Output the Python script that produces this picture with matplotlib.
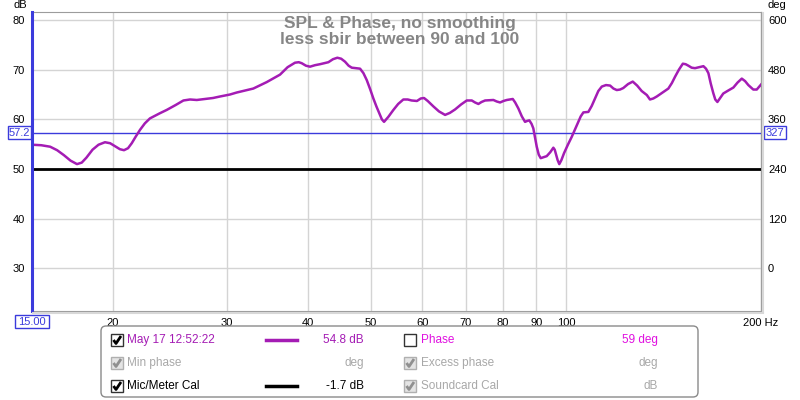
import matplotlib
matplotlib.use("Agg")
import matplotlib.pyplot as plt
from matplotlib.patches import FancyBboxPatch, Rectangle

plt.rcParams['font.family'] = ['Liberation Sans', 'DejaVu Sans']

# SPL trace (Hz, dB)
freq = [15.0, 15.5, 16.0, 16.4, 16.8, 17.2, 17.6, 17.9, 18.2, 18.6,
        19.0, 19.44, 19.8, 20.15, 20.5, 20.8, 21.1, 21.38, 21.7, 22.02,
        22.4, 22.81, 23.6, 24.21, 25.0, 25.69, 26.3, 26.94, 28.54, 29.25,
        30.31, 31.04, 32.93, 34.54, 36.21, 37.2, 38.19, 38.7, 39.11, 39.7,
        40.28, 41.0, 41.74, 43.0, 43.7, 44.39, 45.0, 45.62, 46.2, 46.72,
        47.5, 48.12, 48.7, 49.28, 49.9, 50.45, 51.0, 51.53, 52.0, 52.4,
        53.2, 54.17, 55.1, 56.12, 57.0, 57.8, 58.9, 59.7, 60.4, 61.2,
        62.45, 63.7, 65.09, 66.2, 67.45, 68.9, 70.31, 71.57, 72.4, 73.27,
        74.1, 75.04, 77.28, 78.2, 79.14, 80.1, 81.05, 82.79, 83.5, 84.45,
        85.5, 86.48, 87.2, 87.81, 88.5, 89.06, 89.6, 90.15, 90.8, 91.43,
        92.4, 93.4, 94.6, 95.63, 96.1, 96.54, 97.1, 97.67, 98.4, 99.33,
        100.7, 102.1, 103.3, 104.5, 105.4, 106.4, 108.3, 109.6, 110.9, 112.2,
        113.6, 115.3, 117.0, 118.4, 119.8, 121.2, 122.6, 124.7, 126.8, 128.8,
        130.9, 133.3, 134.8, 136.4, 138.1, 141.0, 143.9, 145.7, 147.4, 149.4,
        151.5, 153.0, 154.5, 156.3, 158.2, 160.6, 163.0, 164.5, 165.9, 167.3,
        168.8, 170.0, 171.3, 173.0, 174.9, 178.0, 181.3, 184.0, 186.8, 189.0,
        191.2, 194.6, 197.0, 200.0]
spl = [54.9, 54.8, 54.5, 53.8, 52.8, 51.7, 51.0, 51.3, 52.3, 53.9,
       54.9, 55.4, 55.2, 54.6, 54.0, 53.8, 54.2, 55.2, 56.6, 57.9,
       59.2, 60.2, 61.2, 61.9, 62.9, 63.8, 64.0, 63.9, 64.3, 64.6,
       65.0, 65.4, 66.2, 67.5, 69.0, 70.5, 71.4, 71.5, 71.3, 70.8,
       70.6, 70.9, 71.1, 71.5, 72.1, 72.4, 72.2, 71.6, 70.8, 70.4,
       70.3, 70.2, 69.3, 67.9, 66.0, 64.2, 62.6, 61.2, 60.0, 59.5,
       60.5, 61.9, 63.1, 64.0, 64.0, 63.8, 63.7, 64.2, 64.3, 63.7,
       62.6, 61.6, 60.9, 61.3, 62.0, 63.0, 63.8, 63.8, 63.4, 63.1,
       63.5, 63.8, 63.9, 63.6, 63.4, 63.7, 63.9, 64.1, 63.4, 62.2,
       60.6, 59.5, 59.7, 59.8, 59.1, 58.2, 56.4, 54.5, 52.9, 52.2,
       52.4, 52.6, 53.4, 54.3, 53.9, 53.0, 51.8, 51.0, 51.8, 53.2,
       54.9, 56.5, 58.0, 59.5, 60.6, 61.4, 61.5, 62.7, 64.2, 65.7,
       66.6, 66.9, 66.8, 66.2, 65.9, 66.0, 66.3, 67.1, 67.6, 66.8,
       65.7, 64.9, 64.0, 64.2, 64.6, 65.4, 66.2, 67.3, 68.6, 70.0,
       71.2, 71.1, 70.8, 70.4, 70.3, 70.5, 70.7, 70.2, 69.3, 67.2,
       65.3, 64.0, 63.5, 64.3, 65.2, 65.8, 66.4, 67.4, 68.2, 67.7,
       66.9, 66.0, 66.0, 67.0]

x_ticks = [20, 30, 40, 50, 60, 70, 80, 90, 100, 200]
x_labels = ['20', '30', '40', '50', '60', '70', '80', '90', '100', '200 Hz']
db_ticks = [30, 40, 50, 60, 70, 80]
deg_ticks = [0, 120, 240, 360, 480, 600]
cal_level = 50
cursor_db = 57.2

trace_col = '#a41cb4'
phase_col = '#e010e0'
blue = '#3b3bdc'
grey_txt = '#a8a8a8'

fig = plt.figure(figsize=(8, 4), dpi=100)
fig.patch.set_facecolor('white')

ax = fig.add_axes([32 / 800, 89 / 400, 729 / 800, 299 / 400])
ax.set_xscale('log')
ax.set_xlim(15, 200)
ax.set_ylim(21.45, 81.6)
ax.grid(True, color='#d4d4d4', lw=1)
ax.set_axisbelow(True)
ax.set_xticks(x_ticks)
ax.set_xticklabels(x_labels)
ax.xaxis.set_minor_locator(matplotlib.ticker.NullLocator())
ax.set_yticks(db_ticks)
ax.tick_params(length=0, labelsize=8, pad=5)
for s in ax.spines.values():
    s.set_color('#9c9c9c')

ax.plot(freq, spl, color=trace_col, lw=1.8, zorder=4)
ax.axhline(cal_level, color='black', lw=2, zorder=3)
ax.axhline(cursor_db, color=blue, lw=1, zorder=3)
ax.axvline(15, color=blue, lw=2.2, clip_on=False, zorder=5)

sec = ax.secondary_yaxis('right', functions=(lambda d: (d - 30) * 12,
                                              lambda p: p / 12 + 30))
sec.set_yticks(deg_ticks)
sec.tick_params(length=0, labelsize=8, pad=5)
sec.spines['right'].set_color('#9c9c9c')

# overlay in pixel coordinates for labels and legend panel
ov = fig.add_axes([0, 0, 1, 1])
ov.set_xlim(0, 800)
ov.set_ylim(400, 0)
ov.axis('off')

ov.plot([762.5, 762.5], [13, 312], color='#d8d8d8', lw=1.5)
ov.plot([33, 762.5], [312.5, 312.5], color='#d8d8d8', lw=1.5)

ov.text(20, 5, 'dB', fontsize=8, ha='center', va='center')
ov.text(768, 5, 'deg', fontsize=8, ha='left', va='center')

ov.text(400, 23.5, 'SPL & Phase, no smoothing', fontsize=12.5, fontweight='bold',
        color='#868686', ha='center', va='center')
ov.text(400, 39.5, 'less sbir between 90 and 100', fontsize=12.5, fontweight='bold',
        color='#868686', ha='center', va='center')

def boxed(x0, y0, w, h, txt):
    ov.add_patch(Rectangle((x0, y0), w, h, fill=True, fc='white', ec=blue, lw=1))
    ov.text(x0 + w / 2, y0 + h / 2 + 0.5, txt, color=blue, fontsize=8,
            ha='center', va='center')

boxed(8, 126, 23, 13, '57.2')
boxed(764, 126, 22, 13, '327')
boxed(15, 315, 34, 13, '15.00')

# legend panel
ov.add_patch(FancyBboxPatch((101, 326), 597, 71, boxstyle='round,pad=0,rounding_size=5',
                            fc='white', ec='#8a8a8a', lw=1))

def checkbox(x0, yc, state):
    # state: 'on', 'off', 'grey'
    fc = '#e4e4e4' if state == 'grey' else 'white'
    ec = '#b0b0b0' if state == 'grey' else '#333333'
    ov.add_patch(Rectangle((x0, yc - 6), 12, 12, fc=fc, ec=ec, lw=1))
    if state != 'off':
        col = '#909090' if state == 'grey' else 'black'
        ov.plot([x0 + 2.5, x0 + 5, x0 + 10], [yc, yc + 3.5, yc - 4],
                color=col, lw=2, solid_capstyle='butt')

rows = [340, 363, 386]
fs = 8.5

checkbox(111, rows[0], 'on')
ov.text(127, rows[0], 'May 17 12:52:22', color=trace_col, fontsize=fs, va='center')
ov.plot([266, 297], [rows[0], rows[0]], color=trace_col, lw=2.5)
ov.text(364, rows[0], '54.8 dB', color=trace_col, fontsize=fs, va='center', ha='right')
checkbox(404, rows[0], 'off')
ov.text(421, rows[0], 'Phase', color=phase_col, fontsize=fs, va='center')
ov.text(658, rows[0], '59 deg', color=phase_col, fontsize=fs, va='center', ha='right')

checkbox(111, rows[1], 'grey')
ov.text(127, rows[1], 'Min phase', color=grey_txt, fontsize=fs, va='center')
ov.text(364, rows[1], 'deg', color=grey_txt, fontsize=fs, va='center', ha='right')
checkbox(404, rows[1], 'grey')
ov.text(421, rows[1], 'Excess phase', color=grey_txt, fontsize=fs, va='center')
ov.text(658, rows[1], 'deg', color=grey_txt, fontsize=fs, va='center', ha='right')

checkbox(111, rows[2], 'on')
ov.text(127, rows[2], 'Mic/Meter Cal', color='black', fontsize=fs, va='center')
ov.plot([266, 297], [rows[2], rows[2]], color='black', lw=2.5)
ov.text(364, rows[2], '-1.7 dB', color='black', fontsize=fs, va='center', ha='right')
checkbox(404, rows[2], 'grey')
ov.text(421, rows[2], 'Soundcard Cal', color=grey_txt, fontsize=fs, va='center')
ov.text(658, rows[2], 'dB', color=grey_txt, fontsize=fs, va='center', ha='right')

fig.savefig('out.png', dpi=100)
